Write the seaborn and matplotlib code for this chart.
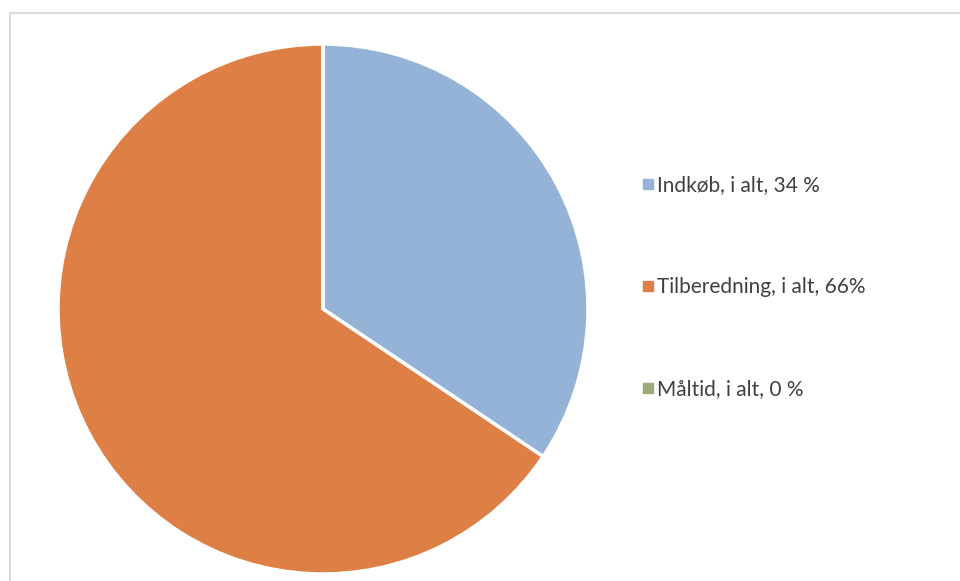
import matplotlib
matplotlib.use("Agg")
import matplotlib.pyplot as plt
import seaborn as sns
from matplotlib.lines import Line2D

labels = ["Indkøb, i alt, 34 %", "Tilberedning, i alt, 66%", "Måltid, i alt, 0 %"]
values = [34.4, 65.6, 0.0]
colors = ["#95B3D7", "#DE7F45", "#9BAA7A"]

sns.set_theme(style="white")
plt.rcParams["font.family"] = ["Lato", "DejaVu Sans"]

fig = plt.figure(figsize=(9.6, 5.81), dpi=100)
# pie axes: centre ~ (323, 308) px, radius ~265 px
ax = fig.add_axes([58 / 960, 1 - 574 / 581, 530 / 960, 530 / 581])
ax.pie(values, colors=colors, startangle=90, counterclock=False,
       wedgeprops=dict(edgecolor="white", linewidth=2.5))
ax.set_xlim(-1.0, 1.0)
ax.set_ylim(-1.0, 1.0)
ax.set_aspect("equal")

handles = [Line2D([], [], marker="s", linestyle="", markersize=7,
                  markerfacecolor=c, markeredgecolor=c) for c in colors]
fig.legend(handles, labels, loc="upper left", bbox_to_anchor=(642 / 960, 1 - 175 / 581),
           frameon=False, fontsize=15, labelspacing=3.95, handletextpad=0.1,
           handlelength=0.6, borderpad=0, borderaxespad=0, labelcolor="#404040")

# chart area border
fig.add_artist(Line2D([10 / 960, 10 / 960, 1], [0, 1 - 13 / 581, 1 - 13 / 581],
                      transform=fig.transFigure, color="#d9d9d9", linewidth=1.5))

fig.savefig("out.png", dpi=100, facecolor="white")
